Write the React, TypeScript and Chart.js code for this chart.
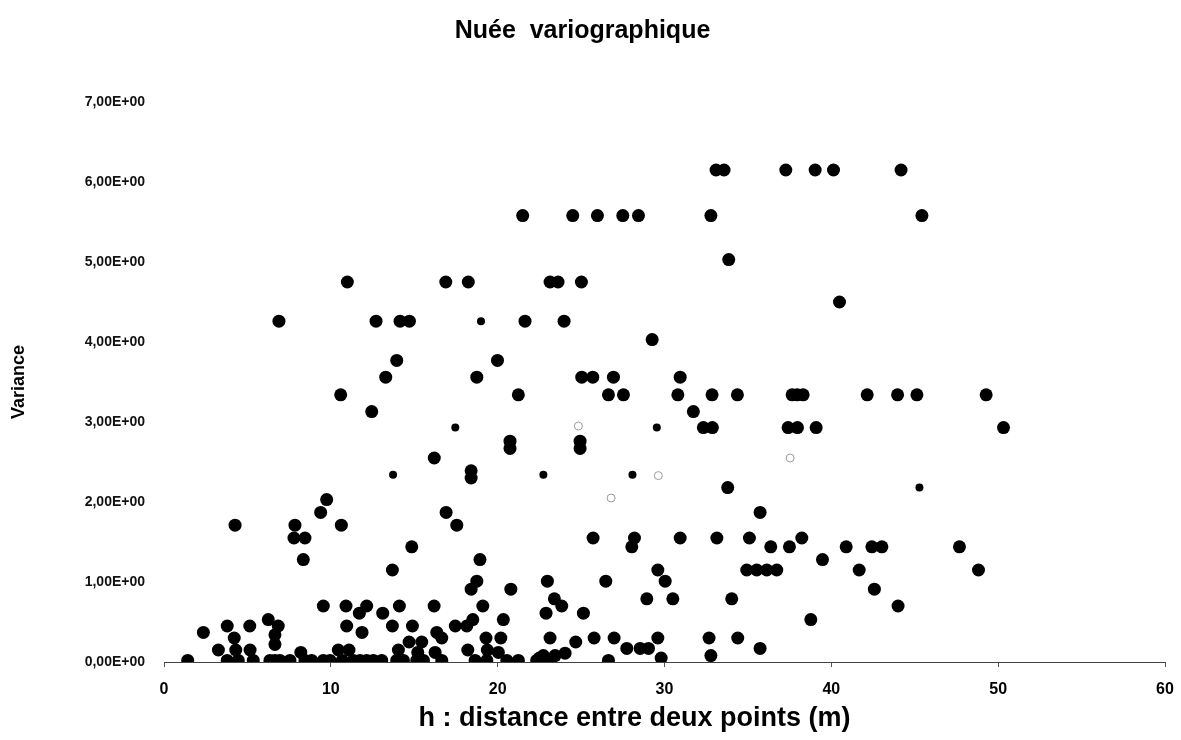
import React, { useEffect, useRef } from 'react';
import { Chart, registerables } from 'chart.js';

Chart.register(...registerables);

const TITLE = 'Nuée  variographique';
const X_TITLE = 'h : distance entre deux points (m)';
const Y_TITLE = 'Variance';
const X_TICKS = [0, 10, 20, 30, 40, 50, 60];
const Y_TICKS = [0, 1, 2, 3, 4, 5, 6, 7];

// [h (m), variance] — large dots
const cloudPoints: [number, number][] = [
  [33.09, 6.15], [33.57, 6.15], [37.27, 6.15], [39.03, 6.15], [40.13, 6.15], [44.18, 6.15],
  [21.5, 5.58], [24.5, 5.58], [25.98, 5.58], [27.5, 5.58], [28.44, 5.58], [32.78, 5.58], [45.43, 5.58],
  [33.85, 5.03],
  [10.99, 4.75], [16.89, 4.75], [18.24, 4.75], [23.14, 4.75], [23.62, 4.75], [25.02, 4.75],
  [40.49, 4.5],
  [6.89, 4.26], [12.71, 4.26], [14.15, 4.26], [14.71, 4.26], [21.64, 4.26], [23.98, 4.26],
  [29.26, 4.03],
  [13.95, 3.77], [19.99, 3.77],
  [13.29, 3.56], [18.75, 3.56], [25.04, 3.56], [25.7, 3.56], [26.94, 3.56], [30.94, 3.56],
  [10.59, 3.34], [21.24, 3.34], [26.64, 3.34], [27.54, 3.34], [30.8, 3.34], [32.85, 3.34], [34.37, 3.34],
  [37.65, 3.34], [37.95, 3.34], [38.31, 3.34], [42.15, 3.34], [43.97, 3.34], [45.13, 3.34], [49.28, 3.34],
  [12.45, 3.13], [31.73, 3.13],
  [32.33, 2.93], [32.87, 2.93], [37.41, 2.93], [37.97, 2.93], [39.09, 2.93], [50.32, 2.93],
  [20.74, 2.67], [20.74, 2.76], [24.94, 2.67], [24.94, 2.76],
  [16.2, 2.55],
  [18.41, 2.3], [18.41, 2.39],
  [33.79, 2.18],
  [9.75, 2.03],
  [9.39, 1.87], [16.91, 1.87], [35.73, 1.87],
  [4.26, 1.71], [7.85, 1.71], [10.63, 1.71], [17.55, 1.71],
  [7.79, 1.55], [8.45, 1.55], [25.72, 1.55], [28.2, 1.55], [30.94, 1.55], [33.14, 1.55], [35.09, 1.55], [38.23, 1.55],
  [14.85, 1.44], [28.04, 1.44], [36.37, 1.44], [37.49, 1.44], [40.89, 1.44], [42.43, 1.44], [43.03, 1.44], [47.68, 1.44],
  [8.35, 1.28], [18.94, 1.28], [39.47, 1.28],
  [13.69, 1.15], [29.6, 1.15], [34.93, 1.15], [35.53, 1.15], [36.13, 1.15], [36.73, 1.15], [41.67, 1.15], [48.82, 1.15],
  [18.75, 1.01], [22.98, 1.01], [26.48, 1.01], [30.04, 1.01],
  [18.41, 0.91], [20.79, 0.91], [42.58, 0.91],
  [23.4, 0.79], [28.94, 0.79], [30.5, 0.79], [34.03, 0.79],
  [9.55, 0.7], [10.91, 0.7], [12.15, 0.7], [14.11, 0.7], [16.19, 0.7], [19.11, 0.7], [23.84, 0.7], [44.0, 0.7],
  [11.71, 0.61], [13.11, 0.61], [22.9, 0.61], [25.14, 0.61],
  [6.25, 0.53], [18.51, 0.53], [20.34, 0.53], [38.77, 0.53],
  [3.79, 0.45], [5.14, 0.45], [6.85, 0.45], [10.95, 0.45], [13.69, 0.45], [14.89, 0.45], [17.46, 0.45], [18.15, 0.45],
  [2.36, 0.37], [11.87, 0.37], [16.35, 0.37],
  [4.21, 0.3], [6.65, 0.34], [6.65, 0.22], [16.65, 0.3], [19.3, 0.3], [20.19, 0.3], [23.14, 0.3], [25.78, 0.3],
  [26.98, 0.3], [29.6, 0.3], [32.67, 0.3], [34.39, 0.3],
  [14.69, 0.25], [15.45, 0.25], [24.68, 0.25],
  [27.74, 0.17], [28.54, 0.17], [29.04, 0.17], [35.73, 0.17],
  [3.26, 0.15], [4.3, 0.15], [5.16, 0.15], [10.45, 0.15], [11.09, 0.15], [14.05, 0.15], [18.21, 0.15], [19.38, 0.15],
  [8.2, 0.12], [15.21, 0.12], [16.25, 0.12], [20.04, 0.12],
  [24.04, 0.11],
  [23.44, 0.08], [22.74, 0.08], [32.78, 0.08],
  [22.5, 0.05], [29.8, 0.05],
  [1.42, 0.02], [3.79, 0.02], [4.45, 0.02], [5.35, 0.02], [6.35, 0.02], [6.65, 0.02], [6.95, 0.02], [7.55, 0.02],
  [8.45, 0.02], [8.85, 0.02], [9.55, 0.02], [9.95, 0.02], [10.69, 0.02], [11.35, 0.02], [11.75, 0.02], [12.15, 0.02],
  [12.55, 0.02], [13.05, 0.02], [13.95, 0.02], [14.35, 0.02], [15.15, 0.02], [15.55, 0.02], [16.65, 0.02], [18.65, 0.02],
  [19.35, 0.02], [20.55, 0.02], [21.24, 0.02], [22.34, 0.02], [23.04, 0.02], [26.64, 0.02],
];

// small dots
const smallPoints: [number, number][] = [
  [19.0, 4.26], [17.46, 2.93], [29.54, 2.93], [13.73, 2.34], [22.74, 2.34], [28.08, 2.34], [45.28, 2.18],
];

// faint glyph marks left by the scan
const glyphPoints: [number, number][] = [
  [24.84, 2.95], [37.53, 2.55], [29.63, 2.33], [26.8, 2.05],
];

const toXY = (pts: [number, number][]) => pts.map(([x, y]) => ({ x, y }));

export default function App() {
  const canvasRef = useRef<HTMLCanvasElement | null>(null);

  useEffect(() => {
    document.body.style.margin = '0';
    const canvas = canvasRef.current;
    if (!canvas) return;
    const chart = new Chart(canvas, {
      type: 'scatter',
      data: {
        datasets: [
          {
            label: 'Nuée',
            data: toXY(cloudPoints),
            backgroundColor: '#000000',
            borderWidth: 0,
            pointRadius: 6.5,
            pointHoverRadius: 6.5,
          },
          {
            label: 'Nuée (petits)',
            data: toXY(smallPoints),
            backgroundColor: '#000000',
            borderWidth: 0,
            pointRadius: 4,
            pointHoverRadius: 4,
          },
          {
            label: 'Marques',
            data: toXY(glyphPoints),
            backgroundColor: 'rgba(0,0,0,0)',
            borderColor: '#9a9a9a',
            borderWidth: 1,
            pointRadius: 4,
            pointHoverRadius: 4,
          },
        ],
      },
      options: {
        responsive: false,
        animation: false,
        layout: { padding: { left: 0, right: 16, top: 0, bottom: 0 } },
        plugins: {
          legend: { display: false },
          tooltip: { enabled: false },
          title: {
            display: true,
            text: TITLE,
            color: '#000000',
            font: { family: "'Liberation Sans', Arial, sans-serif", size: 25, weight: 'bold' },
            padding: { top: 16, bottom: 56 },
          },
        },
        scales: {
          x: {
            type: 'linear',
            min: 0,
            max: 60,
            afterFit: (scale: any) => { scale.height = 78; },
            afterBuildTicks: (scale: any) => { scale.ticks = X_TICKS.map((v) => ({ value: v })); },
            grid: { display: true, drawOnChartArea: false, drawTicks: true, tickLength: 5, color: '#555555' },
            border: { display: true, color: '#444444', width: 1 },
            ticks: {
              color: '#000000',
              padding: 2,
              font: { family: "'Liberation Sans', Arial, sans-serif", size: 16, weight: 'bold', lineHeight: 2.6 },
              callback: (v: any) => String(v),
            },
            title: {
              display: true,
              text: X_TITLE + '\u00A0'.repeat(8),
              color: '#000000',
              font: { family: "'Liberation Sans', Arial, sans-serif", size: 27, weight: 'bold' },
              padding: { top: 0, bottom: 5 },
            },
          },
          y: {
            type: 'linear',
            min: 0,
            max: 7,
            afterFit: (scale: any) => { scale.width = 164; },
            afterBuildTicks: (scale: any) => { scale.ticks = Y_TICKS.map((v) => ({ value: v })); },
            grid: { display: false, drawTicks: false },
            border: { display: false },
            ticks: {
              color: '#111111',
              padding: 19,
              font: { family: "'Liberation Sans', Arial, sans-serif", size: 14, weight: 'bold' },
              callback: (v: any) => Number(v).toFixed(2).replace('.', ',') + 'E+00',
            },
            title: {
              display: true,
              text: Y_TITLE,
              color: '#000000',
              font: { family: "'Liberation Sans', Arial, sans-serif", size: 18, weight: 'bold' },
              padding: { top: 8, bottom: 0 },
            },
          },
        },
      },
    });
    return () => chart.destroy();
  }, []);

  return (
    <div style={{ width: 1181, height: 740 }}>
      <canvas ref={canvasRef} width={1181} height={740} />
    </div>
  );
}
